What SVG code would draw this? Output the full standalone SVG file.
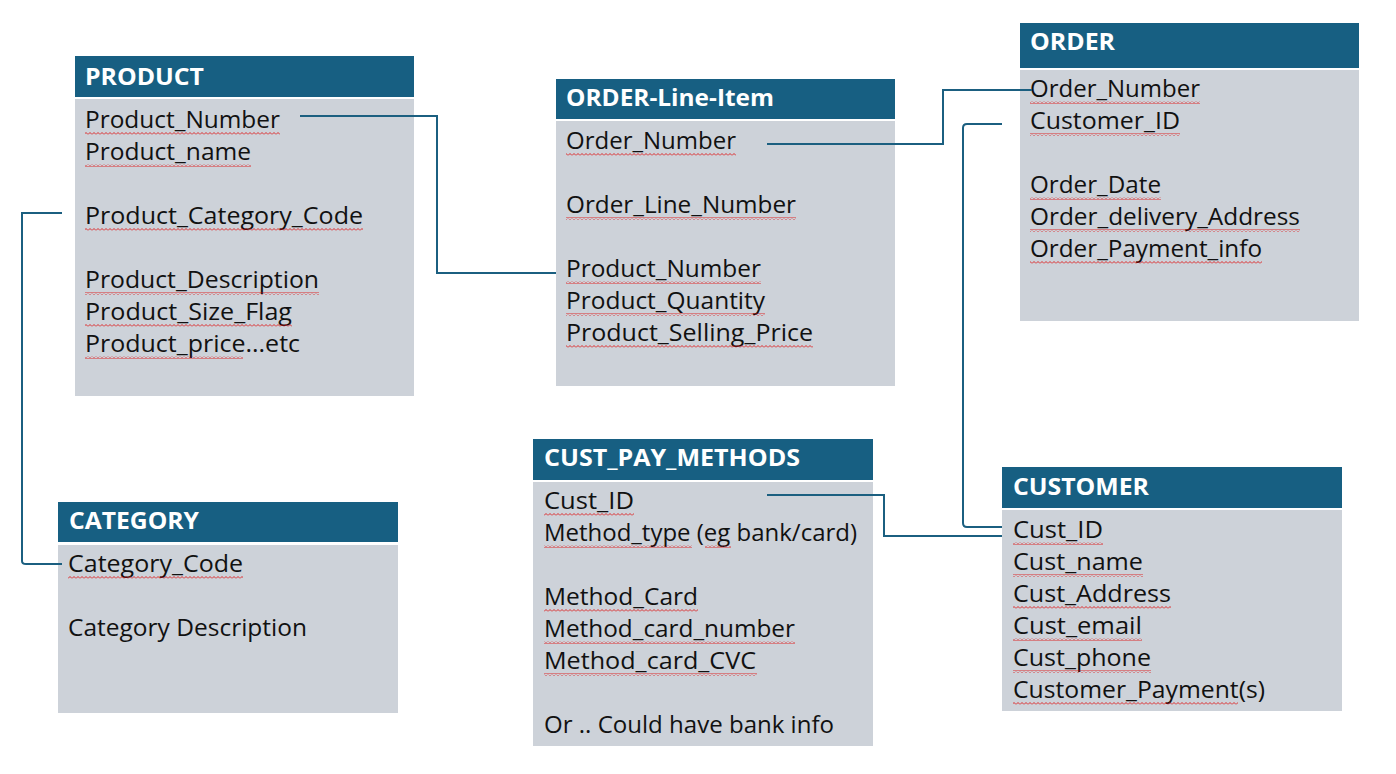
<svg xmlns="http://www.w3.org/2000/svg" width="1396" height="774" viewBox="0 0 1396 774">
<defs>
<pattern id="sq" patternUnits="userSpaceOnUse" width="4" height="3">
<path d="M0 2.5 L2 0.5 L4 2.5" fill="none" stroke="#E00000" stroke-width="0.8"/>
</pattern>
<style>
.hd{fill:#175F82}
.bd{fill:#CDD2D9}
.ht{font-family:"Open Sans","Liberation Sans",sans-serif;font-weight:bold;font-size:23px;fill:#FFFFFF}
.t{font-family:"Open Sans","Liberation Sans",sans-serif;font-size:23.5px;fill:#111111}
.sq{fill:url(#sq)}
.cn{fill:none;stroke:#1B5F80;stroke-width:2}
</style>
</defs>
<rect width="1396" height="774" fill="#FFFFFF"/>

<g id="product">
<rect class="hd" x="75" y="56" width="339" height="41"/>
<rect class="bd" x="75" y="99" width="339" height="297"/>
<text class="ht" x="85" y="85" textLength="119" lengthAdjust="spacingAndGlyphs">PRODUCT</text>
<text class="t" x="85" y="128" textLength="195" lengthAdjust="spacingAndGlyphs">Product_Number</text>
<text class="t" x="85" y="160" textLength="166" lengthAdjust="spacingAndGlyphs">Product_name</text>
<text class="t" x="85" y="224" textLength="278" lengthAdjust="spacingAndGlyphs">Product_Category_Code</text>
<text class="t" x="85" y="288" textLength="234" lengthAdjust="spacingAndGlyphs">Product_Description</text>
<text class="t" x="85" y="320" textLength="207" lengthAdjust="spacingAndGlyphs">Product_Size_Flag</text>
<text class="t" x="85" y="352" textLength="215" lengthAdjust="spacingAndGlyphs">Product_price...etc</text>
<rect class="sq" x="85" y="132" width="195" height="3"/>
<rect class="sq" x="85" y="164" width="166" height="3"/>
<rect class="sq" x="85" y="228" width="278" height="3"/>
<rect class="sq" x="85" y="292" width="234" height="3"/>
<rect class="sq" x="85" y="324" width="207" height="3"/>
<rect class="sq" x="85" y="356" width="158" height="3"/>
</g>

<g id="order-line-item">
<rect class="hd" x="556" y="79" width="339" height="40"/>
<rect class="bd" x="556" y="121" width="339" height="265"/>
<text class="ht" x="566" y="106" textLength="208" lengthAdjust="spacingAndGlyphs">ORDER-Line-Item</text>
<text class="t" x="566" y="149" textLength="170" lengthAdjust="spacingAndGlyphs">Order_Number</text>
<text class="t" x="566" y="213" textLength="230" lengthAdjust="spacingAndGlyphs">Order_Line_Number</text>
<text class="t" x="566" y="277" textLength="195" lengthAdjust="spacingAndGlyphs">Product_Number</text>
<text class="t" x="566" y="309" textLength="199" lengthAdjust="spacingAndGlyphs">Product_Quantity</text>
<text class="t" x="566" y="341" textLength="247" lengthAdjust="spacingAndGlyphs">Product_Selling_Price</text>
<rect class="sq" x="566" y="153" width="170" height="3"/>
<rect class="sq" x="566" y="217" width="230" height="3"/>
<rect class="sq" x="566" y="281" width="195" height="3"/>
<rect class="sq" x="566" y="313" width="199" height="3"/>
<rect class="sq" x="566" y="345" width="247" height="3"/>
</g>

<g id="order">
<rect class="hd" x="1020" y="23" width="339" height="45"/>
<rect class="bd" x="1020" y="70" width="339" height="251"/>
<text class="ht" x="1030" y="50" textLength="85" lengthAdjust="spacingAndGlyphs">ORDER</text>
<text class="t" x="1030" y="97" textLength="170" lengthAdjust="spacingAndGlyphs">Order_Number</text>
<text class="t" x="1030" y="129" textLength="150" lengthAdjust="spacingAndGlyphs">Customer_ID</text>
<text class="t" x="1030" y="193" textLength="131" lengthAdjust="spacingAndGlyphs">Order_Date</text>
<text class="t" x="1030" y="225" textLength="270" lengthAdjust="spacingAndGlyphs">Order_delivery_Address</text>
<text class="t" x="1030" y="257" textLength="232" lengthAdjust="spacingAndGlyphs">Order_Payment_info</text>
<rect class="sq" x="1030" y="101" width="170" height="3"/>
<rect class="sq" x="1030" y="133" width="150" height="3"/>
<rect class="sq" x="1030" y="197" width="131" height="3"/>
<rect class="sq" x="1030" y="229" width="270" height="3"/>
<rect class="sq" x="1030" y="261" width="232" height="3"/>
</g>

<g id="category">
<rect class="hd" x="58" y="502" width="340" height="40"/>
<rect class="bd" x="58" y="545" width="340" height="168"/>
<text class="ht" x="69" y="529" textLength="130" lengthAdjust="spacingAndGlyphs">CATEGORY</text>
<text class="t" x="68" y="572" textLength="175" lengthAdjust="spacingAndGlyphs">Category_Code</text>
<text class="t" x="68" y="636" textLength="239" lengthAdjust="spacingAndGlyphs">Category Description</text>
<rect class="sq" x="68" y="576" width="175" height="3"/>
</g>

<g id="cust-pay-methods">
<rect class="hd" x="533" y="439" width="340" height="41"/>
<rect class="bd" x="533" y="482" width="340" height="264"/>
<text class="ht" x="544" y="466" textLength="256" lengthAdjust="spacingAndGlyphs">CUST_PAY_METHODS</text>
<text class="t" x="544" y="509" textLength="90" lengthAdjust="spacingAndGlyphs">Cust_ID</text>
<text class="t" x="544" y="541" textLength="313" lengthAdjust="spacingAndGlyphs">Method_type (eg bank/card)</text>
<text class="t" x="544" y="605" textLength="154" lengthAdjust="spacingAndGlyphs">Method_Card</text>
<text class="t" x="544" y="637" textLength="251" lengthAdjust="spacingAndGlyphs">Method_card_number</text>
<text class="t" x="544" y="669" textLength="212" lengthAdjust="spacingAndGlyphs">Method_card_CVC</text>
<text class="t" x="544" y="733" textLength="290" lengthAdjust="spacingAndGlyphs">Or .. Could have bank info</text>
<rect class="sq" x="544" y="513" width="90" height="3"/>
<rect class="sq" x="544" y="545" width="148" height="3"/>
<rect class="sq" x="705" y="545" width="26" height="3"/>
<rect class="sq" x="544" y="609" width="154" height="3"/>
<rect class="sq" x="544" y="641" width="251" height="3"/>
<rect class="sq" x="544" y="673" width="213" height="3"/>
</g>

<g id="customer">
<rect class="hd" x="1002" y="467" width="340" height="41"/>
<rect class="bd" x="1002" y="510" width="340" height="201"/>
<text class="ht" x="1013" y="495" textLength="136" lengthAdjust="spacingAndGlyphs">CUSTOMER</text>
<text class="t" x="1013" y="538" textLength="90" lengthAdjust="spacingAndGlyphs">Cust_ID</text>
<text class="t" x="1013" y="570" textLength="130" lengthAdjust="spacingAndGlyphs">Cust_name</text>
<text class="t" x="1013" y="602" textLength="158" lengthAdjust="spacingAndGlyphs">Cust_Address</text>
<text class="t" x="1013" y="634" textLength="129" lengthAdjust="spacingAndGlyphs">Cust_email</text>
<text class="t" x="1013" y="666" textLength="138" lengthAdjust="spacingAndGlyphs">Cust_phone</text>
<text class="t" x="1013" y="698" textLength="252" lengthAdjust="spacingAndGlyphs">Customer_Payment(s)</text>
<rect class="sq" x="1013" y="542" width="90" height="3"/>
<rect class="sq" x="1013" y="574" width="130" height="3"/>
<rect class="sq" x="1013" y="606" width="158" height="3"/>
<rect class="sq" x="1013" y="638" width="129" height="3"/>
<rect class="sq" x="1013" y="670" width="138" height="3"/>
<rect class="sq" x="1013" y="702" width="225" height="3"/>
</g>

<g id="connectors">
<path class="cn" d="M300 116 H437 V273 H556"/>
<path class="cn" d="M62 213 H22 V561 Q22 564 26 564 H62"/>
<path class="cn" d="M767 144 H943 V90 H1032"/>
<path class="cn" d="M1002 124 H967 Q963 124 963 128 V523 Q963 527 967 527 H1002"/>
<path class="cn" d="M767 495 H884 V536 H1002"/>
</g>
</svg>
